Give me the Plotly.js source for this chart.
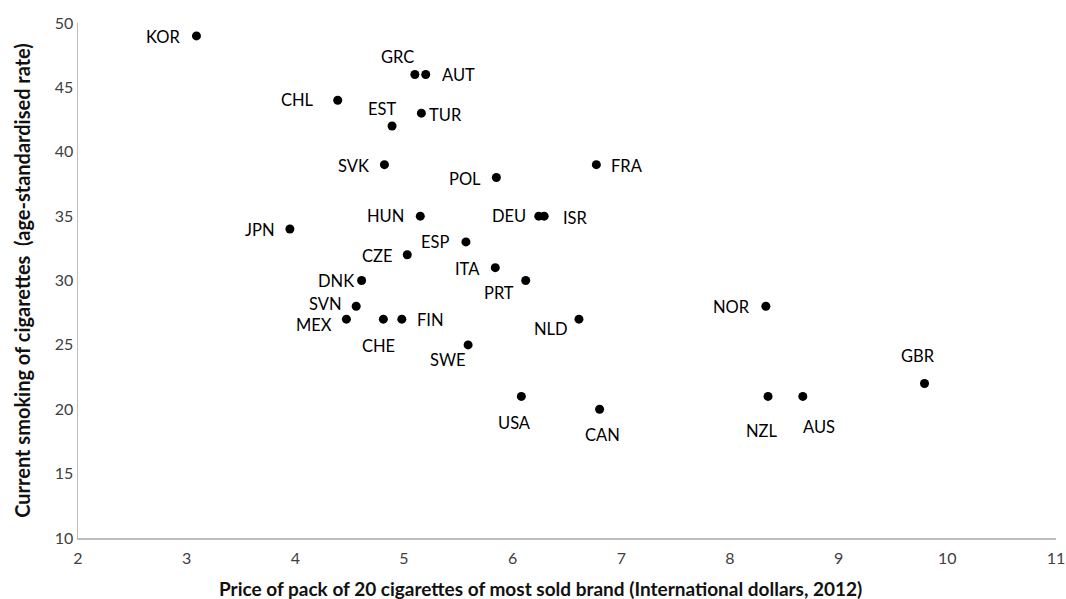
<!DOCTYPE html>
<html>
<head>
<meta charset="utf-8">
<script src="https://cdn.plot.ly/plotly-3.0.1.min.js"></script>
<style>
html,body{margin:0;padding:0;background:#fff;}
#chart{width:1066px;height:599px;}
</style>
</head>
<body>
<div id="chart"></div>
<script>
// Data
const countries = ["KOR","GRC","AUT","CHL","EST","TUR","SVK","POL","FRA","HUN","DEU","ISR","JPN","ESP","CZE","ITA","DNK","PRT","SVN","MEX","CHE","FIN","NLD","NOR","SWE","GBR","USA","NZL","AUS","CAN"];
const price   = [3.09, 5.10, 5.20, 4.39, 4.89, 5.16, 4.82, 5.85, 6.77, 5.15, 6.24, 6.29, 3.95, 5.57, 5.03, 5.84, 4.61, 6.12, 4.56, 4.47, 4.81, 4.98, 6.61, 8.33, 5.59, 9.79, 6.08, 8.35, 8.67, 6.80];
const smoking = [49, 46, 46, 44, 42, 43, 39, 38, 39, 35, 35, 35, 34, 33, 32, 31, 30, 30, 28, 27, 27, 27, 27, 28, 25, 22, 21, 21, 21, 20];
const xTitle = "Price of pack of 20 cigarettes of most sold brand (International dollars, 2012)";
const yTitle = "Current smoking of cigarettes  (age-standardised rate)";

// Label placement relative to each point (pixels: dx right, dy down)
const labelDx = [-33,-17, 33,-40,-10, 24,-31,-31, 31,-35,-30, 31,-30,-31,-30,-28,-26,-27,-31,-32, -5, 29,-28,-34,-20, -7, -7, -6, 16,  3];
const labelDy = [  1,-18,  0,  0,-17,  2,  1,  1,  1,  0,  0,  2,  1,  0,  1,  1,  0, 12, -2,  6, 27,  1, 10,  1, 15,-28, 27, 35, 31, 26];

const fam = "Lato, 'Open Sans', sans-serif";
const labelFont = {family: fam, size: 16.5, color: "#000"};

const annotations = countries.map((c, i) => ({
  x: price[i], y: smoking[i], xref: "x", yref: "y",
  text: c, showarrow: false,
  xshift: labelDx[i], yshift: -labelDy[i],
  font: labelFont
}));

// x-axis title (placed slightly left of plot centre, as in the reference)
annotations.push({
  xref: "paper", yref: "paper", x: 0.473, y: 0, yshift: -50,
  xanchor: "center", yanchor: "middle", showarrow: false,
  text: "<b>" + xTitle + "</b>",
  font: {family: fam, size: 19, color: "#111"}
});

const trace = {
  type: "scatter", mode: "markers",
  x: price, y: smoking, text: countries,
  marker: {color: "#000", size: 9},
  hoverinfo: "text+x+y"
};

const layout = {
  width: 1066, height: 599,
  margin: {l: 78, r: 10, t: 23, b: 61},
  paper_bgcolor: "#fff", plot_bgcolor: "#fff",
  showlegend: false,
  font: {family: fam, color: "#404040"},
  xaxis: {
    range: [2, 11], dtick: 1, tick0: 2,
    showgrid: false, zeroline: false,
    showline: true, linecolor: "#bdbdbd", linewidth: 1.5,
    ticks: "", ticklabelstandoff: 5, tickfont: {size: 16, color: "#404040"}
  },
  yaxis: {
    range: [10, 50], dtick: 5, tick0: 10,
    showgrid: false, zeroline: false,
    showline: true, linecolor: "#bdbdbd", linewidth: 1.5,
    ticks: "", tickfont: {size: 16, color: "#404040"},
    title: {text: yTitle,
            font: {size: 20, color: "#111", family: fam, weight: "bold"}, standoff: 18}
  },
  annotations: annotations
};

Plotly.newPlot("chart", [trace], layout, {displayModeBar: false, staticPlot: true});
</script>
</body>
</html>
